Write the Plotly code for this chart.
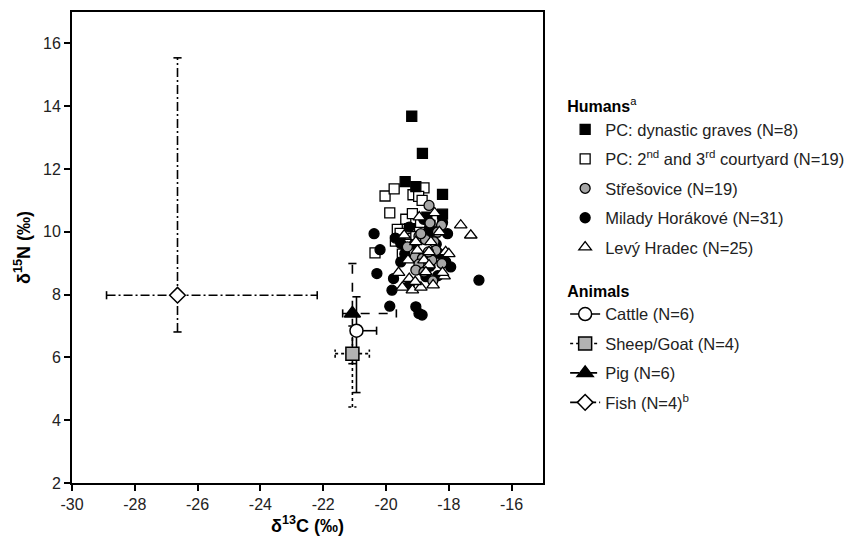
import plotly.graph_objects as go

# ---------------- data ----------------
# Humans (d13C, d15N)
dyn_x = [-19.18, -18.84, -19.39, -19.05, -18.20, -18.20, -18.70, -18.45]
dyn_y = [13.68, 12.50, 11.60, 11.44, 11.19, 10.56, 10.47, 10.00]

court_x = [-20.03, -19.74, -18.79, -19.14, -18.96, -19.88, -19.37, -19.16, -19.64, -20.35,
           -19.48, -19.55, -19.25, -18.90, -19.70, -19.05, -18.60, -19.35, -18.85]
court_y = [11.14, 11.37, 11.40, 11.18, 11.13, 10.60, 10.40, 10.58, 10.08, 9.33,
           9.29, 9.95, 10.10, 10.30, 9.70, 9.85, 10.20, 9.60, 11.00]

stre_x = [-18.63, -18.60, -18.23, -18.36, -18.95, -18.74, -18.47, -19.07, -18.84, -18.54,
          -18.95, -18.22, -19.05, -18.79, -18.51, -19.32, -18.41, -18.65, -18.89]
stre_y = [10.84, 10.28, 10.21, 9.99, 9.86, 9.75, 9.68, 9.20, 9.15, 9.10,
          8.97, 8.99, 8.78, 8.72, 8.44, 9.52, 9.41, 9.36, 9.94]

mil_x = [-20.38, -20.19, -19.53, -20.29, -19.76, -19.81, -19.88, -19.05, -19.26, -19.53,
         -18.63, -18.04, -18.31, -17.94, -17.04, -18.73, -19.26, -18.95, -18.85, -19.10,
         -18.50, -18.20, -18.90, -18.60, -19.40, -18.40, -18.10, -19.00, -18.80, -19.70, -18.35]
mil_y = [9.94, 9.43, 9.04, 8.67, 8.51, 8.14, 7.63, 7.61, 10.15, 9.63,
         10.07, 9.94, 9.31, 8.88, 8.46, 8.57, 8.30, 7.40, 7.35, 9.60,
         9.90, 10.30, 9.20, 8.90, 9.30, 9.60, 9.05, 8.80, 10.40, 9.80, 8.60]

levy_x = [-18.45, -18.94, -17.62, -17.30, -19.42, -19.05, -18.57, -18.63, -19.00, -18.10,
          -18.79, -18.63, -18.73, -18.15, -19.26, -19.48, -19.16, -18.89, -19.07, -18.30,
          -18.00, -19.30, -18.50, -18.20, -19.60]
levy_y = [10.60, 10.47, 10.21, 9.89, 9.89, 9.68, 9.68, 9.36, 9.41, 9.36,
          9.10, 8.94, 8.72, 8.59, 8.51, 8.23, 8.14, 8.23, 8.41, 10.00,
          9.30, 9.10, 8.30, 8.70, 8.70]

# Animals: mean and range
animal_names = ["Cattle (N=6)", "Sheep/Goat (N=4)", "Pig (N=6)", "Fish (N=4)<sup>b</sup>"]
animal_x = [-20.94, -21.07, -21.07, -26.64]
animal_y = [6.85, 6.12, 7.40, 7.98]
animal_x_lo = [-20.98, -21.62, -21.38, -28.90]
animal_x_hi = [-20.30, -20.53, -19.67, -22.19]
animal_y_lo = [4.88, 4.42, 5.80, 6.81]
animal_y_hi = [7.93, 7.00, 8.99, 15.54]

x_ticks = [-30, -28, -26, -24, -22, -20, -18, -16]
y_ticks = [2, 4, 6, 8, 10, 12, 14, 16]

FONT = "Arial, Liberation Sans, sans-serif"

fig = go.Figure()

# ---------------- animal error bars (drawn as lines) ----------------
dashes = ["solid", "dot", "dash", "9px,3px,2px,3px"]
cap = 0.13
for i in range(len(animal_names)):
    xs, ys = [], []
    xs += [animal_x_lo[i], animal_x_hi[i], None,
           animal_x_lo[i], animal_x_lo[i], None,
           animal_x_hi[i], animal_x_hi[i], None]
    ys += [animal_y[i], animal_y[i], None,
           animal_y[i] - cap, animal_y[i] + cap, None,
           animal_y[i] - cap, animal_y[i] + cap, None]
    xs += [animal_x[i], animal_x[i], None,
           animal_x[i] - cap, animal_x[i] + cap, None,
           animal_x[i] - cap, animal_x[i] + cap, None]
    ys += [animal_y_lo[i], animal_y_hi[i], None,
           animal_y_lo[i], animal_y_lo[i], None,
           animal_y_hi[i], animal_y_hi[i], None]
    fig.add_trace(go.Scatter(x=xs, y=ys, mode="lines", showlegend=False,
                             line=dict(color="black", width=1.6, dash=dashes[i]),
                             hoverinfo="skip"))

# ---------------- humans ----------------
def human(x, y, name, symbol, fill, rank, size=10, lw=1.3):
    fig.add_trace(go.Scatter(
        x=x, y=y, mode="markers", name=name, legend="legend",
        marker=dict(symbol=symbol, size=size, color=fill, line=dict(color="black", width=lw)),
        legendgroup="g" + str(rank), legendrank=rank,
    ))

human(court_x, court_y, "PC: 2<sup>nd</sup> and 3<sup>rd</sup> courtyard (N=19)", "square", "white", 2)
human(dyn_x, dyn_y, "PC: dynastic graves (N=8)", "square", "black", 1)
human(mil_x, mil_y, "Milady Horákové (N=31)", "circle", "black", 4)
human(stre_x, stre_y, "Střešovice (N=19)", "circle", "#a6a6a6", 3)
human(levy_x, levy_y, "Levý Hradec (N=25)", "triangle-up", "white", 5, size=11)

# ---------------- animal markers ----------------
a_symbols = ["circle", "square", "triangle-up", "diamond"]
a_fill = ["white", "#b3b3b3", "black", "white"]
a_size = [13, 13, 14, 12]
for i in range(len(animal_names)):
    fig.add_trace(go.Scatter(
        x=[animal_x[i]], y=[animal_y[i]], mode="lines+markers", name=animal_names[i],
        legend="legend2",
        line=dict(color="black", width=1.6, dash=dashes[i]),
        marker=dict(symbol=a_symbols[i], size=a_size[i], color=a_fill[i],
                    line=dict(color="black", width=1.5)),
        legendgroup="a" + str(i), legendrank=10 + i,
    ))

axis_common = dict(showline=True, linecolor="black", linewidth=2, mirror=True,
                   ticks="outside", ticklen=6, tickwidth=1.5, tickcolor="black",
                   showgrid=False, zeroline=False,
                   tickfont=dict(size=16, color="#222", family=FONT))

legend_common = dict(x=1.047, xanchor="left", yanchor="top",
                     font=dict(size=16.5, color="#222", family=FONT),
                     traceorder="grouped", tracegroupgap=5,
                     bgcolor="rgba(0,0,0,0)", itemsizing="trace")

fig.update_layout(
    width=859, height=539,
    margin=dict(l=72, r=316, t=12, b=56, autoexpand=False),
    paper_bgcolor="white", plot_bgcolor="white",
    font=dict(family=FONT, color="black"),
    xaxis=dict(range=[-30, -15], tickvals=x_ticks, ticktext=[str(v) for v in x_ticks],
               title=dict(text="<b>δ<sup>13</sup>C (‰)</b>", font=dict(size=18, family=FONT), standoff=4),
               **axis_common),
    yaxis=dict(range=[2, 17], tickvals=y_ticks, ticktext=[str(v) for v in y_ticks],
               title=dict(text="<b>δ<sup>15</sup>N (‰)</b>", font=dict(size=18, family=FONT), standoff=8),
               **axis_common),
    legend=dict(y=0.8315, title=dict(text="<b>Humans</b><sup>a</sup>",
                                     font=dict(size=16, color="black", family=FONT)),
                **legend_common),
    legend2=dict(y=0.4395, title=dict(text="<b>Animals</b>",
                                      font=dict(size=16, color="black", family=FONT)),
                 **legend_common),
)

fig.write_html("out.html")
